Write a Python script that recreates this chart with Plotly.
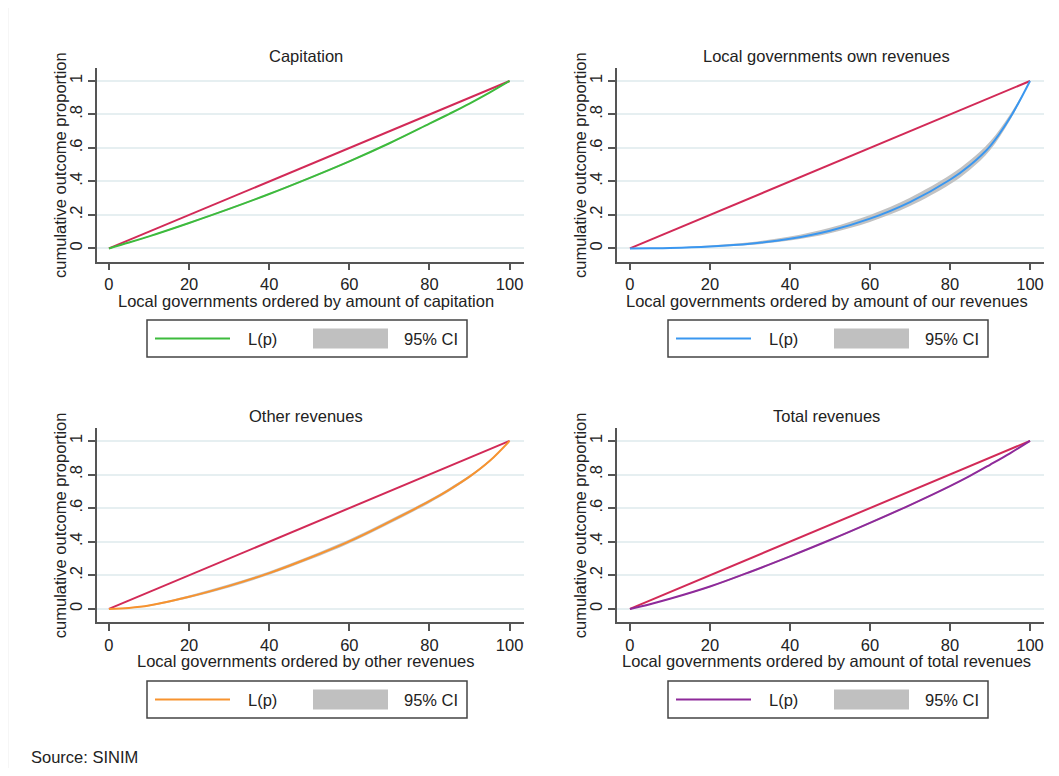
import plotly.graph_objects as go

# ---------------- data ----------------
p = [0, 5, 10, 20, 30, 40, 50, 60, 70, 80, 85, 90, 95, 100]
equality = [0, 5, 10, 20, 30, 40, 50, 60, 70, 80, 85, 90, 95, 100]

cap_L = [0, 0.035, 0.072, 0.152, 0.236, 0.325, 0.420, 0.520, 0.628, 0.745, 0.804, 0.865, 0.930, 1.0]
cap_lo = [0, 0.033, 0.069, 0.148, 0.231, 0.320, 0.415, 0.515, 0.623, 0.741, 0.800, 0.862, 0.928, 1.0]
cap_hi = [0, 0.037, 0.075, 0.156, 0.241, 0.330, 0.425, 0.525, 0.633, 0.749, 0.808, 0.868, 0.932, 1.0]

own_L = [0, 0.001, 0.003, 0.012, 0.028, 0.058, 0.106, 0.178, 0.277, 0.410, 0.497, 0.610, 0.780, 1.0]
own_lo = [0, 0.000, 0.002, 0.008, 0.021, 0.047, 0.091, 0.158, 0.253, 0.383, 0.470, 0.586, 0.765, 1.0]
own_hi = [0, 0.002, 0.006, 0.018, 0.037, 0.071, 0.124, 0.200, 0.303, 0.438, 0.526, 0.638, 0.800, 1.0]

oth_L = [0, 0.006, 0.020, 0.072, 0.137, 0.213, 0.303, 0.402, 0.518, 0.641, 0.710, 0.787, 0.880, 1.0]
oth_lo = [0, 0.004, 0.016, 0.065, 0.128, 0.203, 0.292, 0.391, 0.507, 0.631, 0.700, 0.779, 0.874, 1.0]
oth_hi = [0, 0.008, 0.024, 0.079, 0.146, 0.223, 0.314, 0.413, 0.529, 0.651, 0.720, 0.795, 0.886, 1.0]

tot_L = [0, 0.028, 0.060, 0.133, 0.220, 0.313, 0.410, 0.512, 0.618, 0.731, 0.792, 0.858, 0.926, 1.0]
tot_lo = [0, 0.026, 0.057, 0.129, 0.215, 0.308, 0.405, 0.507, 0.613, 0.727, 0.788, 0.855, 0.924, 1.0]
tot_hi = [0, 0.030, 0.063, 0.137, 0.225, 0.318, 0.415, 0.517, 0.623, 0.735, 0.796, 0.861, 0.928, 1.0]

panel_titles = ["Capitation", "Local governments own revenues", "Other revenues", "Total revenues"]
x_titles = [
    "Local governments ordered by amount of capitation",
    "Local governments ordered by amount of our revenues",
    "Local governments ordered by other revenues",
    "Local governments ordered by amount of total revenues",
]
y_title = "cumulative outcome proportion"
x_ticks = [0, 20, 40, 60, 80, 100]
y_ticks = [0, 0.2, 0.4, 0.6, 0.8, 1]
y_ticklabels = ["0", ".2", ".4", ".6", ".8", "1"]
legend_labels = ["L(p)", "95% CI"]
source_text = "Source: SINIM"

# ---------------- styles ----------------
OFF = 8  # default page body margin
W, H = 1059 - 2 * OFF, 776 - 2 * OFF
FONT = "Liberation Sans, Arial, sans-serif"
FS = 16.5
TXT = "#222222"
AX = "#555555"
GRID = "#e6eff1"
DIAG = "#d22a57"
CI_FILL = "#c2c2c2"
colors = ["#3dbb3d", "#3a97f0", "#f7932f", "#8e2a9a"]

series = [
    (cap_L, cap_lo, cap_hi),
    (own_L, own_lo, own_hi),
    (oth_L, oth_lo, oth_hi),
    (tot_L, tot_lo, tot_hi),
]

# panel pixel geometry in screen px: (axis left, axis right, axis top, axis bottom)
panels = [
    (97, 524, 68.4, 261.5),
    (617, 1044, 68.4, 261.5),
    (97, 524, 428.3, 622),
    (617, 1044, 428.3, 622),
]
xranges = [[-2.98, 103.6], [-3.24, 103.5], [-2.98, 103.6], [-3.24, 103.5]]
yrange = [-0.078, 1.075]

def fx(px):
    return (px - OFF) / W

def fy(py):
    return 1 - (py - OFF) / H

fig = go.Figure()
layout_axes = {}
annotations = []
shapes = []

for i in range(4):
    xa = "x" if i == 0 else f"x{i+1}"
    ya = "y" if i == 0 else f"y{i+1}"
    L, lo, hi = series[i]
    fig.add_trace(go.Scatter(x=p, y=lo, xaxis=xa, yaxis=ya, mode="lines",
                             line=dict(width=0, color=CI_FILL, shape="spline", smoothing=1.0),
                             showlegend=False, hoverinfo="skip"))
    fig.add_trace(go.Scatter(x=p, y=hi, xaxis=xa, yaxis=ya, mode="lines", fill="tonexty",
                             fillcolor=CI_FILL, line=dict(width=0, color=CI_FILL, shape="spline", smoothing=1.0),
                             showlegend=False, hoverinfo="skip"))
    fig.add_trace(go.Scatter(x=p, y=[v / 100 for v in equality], xaxis=xa, yaxis=ya, mode="lines",
                             line=dict(color=DIAG, width=2), showlegend=False))
    fig.add_trace(go.Scatter(x=p, y=L, xaxis=xa, yaxis=ya, mode="lines",
                             line=dict(color=colors[i], width=2, shape="spline", smoothing=1.0),
                             showlegend=False))

    l, r, t, b = panels[i]
    xk = "xaxis" if i == 0 else f"xaxis{i+1}"
    yk = "yaxis" if i == 0 else f"yaxis{i+1}"
    layout_axes[xk] = dict(
        domain=[fx(l), fx(r)], range=xranges[i], anchor=ya,
        tickvals=x_ticks, ticks="outside", ticklen=7, tickwidth=1.5, tickcolor=AX,
        showline=True, linecolor=AX, linewidth=1.5, showgrid=False, zeroline=False,
        tickfont=dict(family=FONT, size=FS, color=TXT),
    )
    layout_axes[yk] = dict(
        domain=[fy(b), fy(t)], range=yrange, anchor=xa,
        tickvals=y_ticks, ticktext=y_ticklabels, tickangle=-90,
        ticks="outside", ticklen=7, tickwidth=1.5, tickcolor=AX,
        showline=True, linecolor=AX, linewidth=1.5,
        showgrid=True, gridcolor=GRID, gridwidth=1.5, zeroline=False,
        tickfont=dict(family=FONT, size=FS, color=TXT),
    )

    x0px = l + (0 - xranges[i][0]) / (xranges[i][1] - xranges[i][0]) * (r - l)
    x100px = l + (100 - xranges[i][0]) / (xranges[i][1] - xranges[i][0]) * (r - l)
    cx = (x0px + x100px) / 2
    annotations.append(dict(text=panel_titles[i], x=fx(cx - 3), y=fy(t - 12), xref="paper", yref="paper",
                            xanchor="center", yanchor="middle", showarrow=False,
                            font=dict(family=FONT, size=FS, color=TXT)))
    annotations.append(dict(text=x_titles[i], x=fx(cx - 3), y=fy(b + 39), xref="paper", yref="paper",
                            xanchor="center", yanchor="middle", showarrow=False,
                            font=dict(family=FONT, size=FS, color=TXT)))
    annotations.append(dict(text=y_title, x=fx(l - 37), y=fy((t + b) / 2), xref="paper", yref="paper",
                            xanchor="center", yanchor="middle", textangle=-90, showarrow=False,
                            font=dict(family=FONT, size=FS, color=TXT)))

    lx0 = 147 if i % 2 == 0 else 668
    ly0 = 320 if i < 2 else 681
    ly1 = ly0 + 37
    ymid = (ly0 + ly1) / 2
    shapes.append(dict(type="rect", xref="paper", yref="paper", x0=fx(lx0), x1=fx(lx0 + 320),
                       y0=fy(ly1), y1=fy(ly0), line=dict(color="#444444", width=1.5), fillcolor="white"))
    shapes.append(dict(type="line", xref="paper", yref="paper", x0=fx(lx0 + 8), x1=fx(lx0 + 83),
                       y0=fy(ymid), y1=fy(ymid), line=dict(color=colors[i], width=2)))
    shapes.append(dict(type="rect", xref="paper", yref="paper", x0=fx(lx0 + 166), x1=fx(lx0 + 241),
                       y0=fy(ymid + 10), y1=fy(ymid - 10), line=dict(width=0), fillcolor="#c0c0c0"))
    annotations.append(dict(text=legend_labels[0], x=fx(lx0 + 115), y=fy(ymid), xref="paper", yref="paper",
                            xanchor="center", yanchor="middle", showarrow=False,
                            font=dict(family=FONT, size=FS, color=TXT)))
    annotations.append(dict(text=legend_labels[1], x=fx(lx0 + 284), y=fy(ymid), xref="paper", yref="paper",
                            xanchor="center", yanchor="middle", showarrow=False,
                            font=dict(family=FONT, size=FS, color=TXT)))

annotations.append(dict(text=source_text, x=fx(29), y=fy(757), xref="paper", yref="paper",
                        xanchor="left", yanchor="middle", showarrow=False,
                        font=dict(family=FONT, size=FS, color=TXT)))

shapes.append(dict(type="line", xref="paper", yref="paper", x0=0, x1=1, y0=fy(7.5), y1=fy(7.5),
                   line=dict(color="#eeeeee", width=1)))
shapes.append(dict(type="line", xref="paper", yref="paper", x0=0, x1=0, y0=0, y1=fy(7.5),
                   line=dict(color="#eeeeee", width=1)))

fig.update_layout(
    width=W, height=H,
    margin=dict(l=0, r=0, t=0, b=0),
    paper_bgcolor="white", plot_bgcolor="white",
    showlegend=False,
    annotations=annotations,
    shapes=shapes,
    font=dict(family=FONT, size=FS, color=TXT),
    **layout_axes,
)

fig.write_html("out.html")
